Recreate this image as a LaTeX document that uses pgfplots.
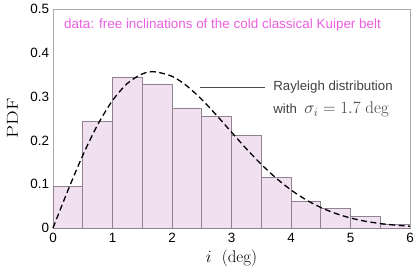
\documentclass[border=0pt]{standalone}
\usepackage{pgfplots}
\pgfplotsset{compat=1.18}
\usepackage{fontspec}
\setmainfont{Latin Modern Roman}
\newfontfamily\sans{Liberation Sans}
\definecolor{barfill}{RGB}{240,224,240}
\definecolor{baredge}{RGB}{145,130,145}
\definecolor{magtext}{RGB}{235,95,225}
\definecolor{axgray}{RGB}{170,170,170}
\begin{document}
\begin{tikzpicture}
\begin{axis}[
  scale only axis,
  width=357bp, height=219bp,
  xmin=0, xmax=6, ymin=0, ymax=0.5,
  xtick={0,1,2,3,4,5,6},
  ytick={0,0.1,0.2,0.3,0.4,0.5},
  yticklabels={0,0.1,0.2,0.3,0.4,0.5},
  xticklabels={0,1,2,3,4,5,6},
  major tick length=0pt,
  tick label style={font=\sans\fontsize{13.5}{15}\selectfont},
  xticklabel style={yshift=-2pt},
  yticklabel style={xshift=-0.5pt},
  axis line style={axgray},
  xlabel={$i$\ \ (deg)},
  ylabel={\scalebox{1.3}[1]{PDF}},
  xlabel style={font=\fontsize{17}{19}\selectfont, at={(axis description cs:0.5,0)}, anchor=center, yshift=-30bp},
  ylabel style={font=\fontsize{16}{18}\selectfont, at={(axis description cs:-0.1134,0.5)}, anchor=center},
  clip=false,
]
\addplot[ybar interval, fill=barfill, draw=baredge, line width=0.6pt] coordinates {
(0,0.095) (0.5,0.243) (1,0.345) (1.5,0.329) (2,0.274) (2.5,0.255)
(3,0.211) (3.5,0.116) (4,0.062) (4.5,0.044) (5,0.026) (5.5,0.008) (6,0.008)
};
\addplot[black, line width=1.3pt, dash pattern=on 6pt off 3.5pt, smooth] coordinates {
(0,0) (0.25,0.0856) (0.5,0.1657) (0.75,0.2355) (1.0,0.2910) (1.25,0.3301)
(1.5,0.3517) (1.7,0.3568) (2.0,0.3464) (2.25,0.3243) (2.5,0.2934)
(2.75,0.2572) (3.0,0.2188) (3.25,0.1809) (3.5,0.1455) (3.75,0.1139)
(4.0,0.0869) (4.25,0.0646) (4.5,0.0469) (4.75,0.0332) (5.0,0.0229)
(5.25,0.0154) (5.5,0.0102) (5.75,0.0065) (6.0,0.0041)
};
\draw[axgray, line width=0.5pt] (axis cs:0,0.5) -- (axis cs:6,0.5) -- (axis cs:6,0);
\draw[black!70, line width=0.7pt] (axis cs:2.47,0.322) -- (axis cs:3.56,0.322);
\node[anchor=west, text=black!75, font=\sans\fontsize{13.3}{15}\selectfont, inner sep=0pt] at (axis cs:3.70,0.322) {Rayleigh distribution};
\node[anchor=west, text=black!75, font=\sans\fontsize{13.3}{15}\selectfont, inner sep=0pt] at (axis cs:3.70,0.270) {with\ \ {\fontsize{17}{19}\selectfont$\sigma_i=1.7\ \mathrm{deg}$}};
\node[anchor=west, text=magtext, font=\sans\fontsize{13.5}{15}\selectfont, inner sep=0pt] at (axis cs:0.185,0.464) {data: free inclinations of the cold classical Kuiper belt};
\path (rel axis cs:0,0) ++(-53bp,-50bp) coordinate (bl);
\path (rel axis cs:1,1) ++(5bp,9bp) coordinate (tr);
\end{axis}
\pgfresetboundingbox
\path[use as bounding box] (bl) rectangle (tr);
\end{tikzpicture}
\end{document}
